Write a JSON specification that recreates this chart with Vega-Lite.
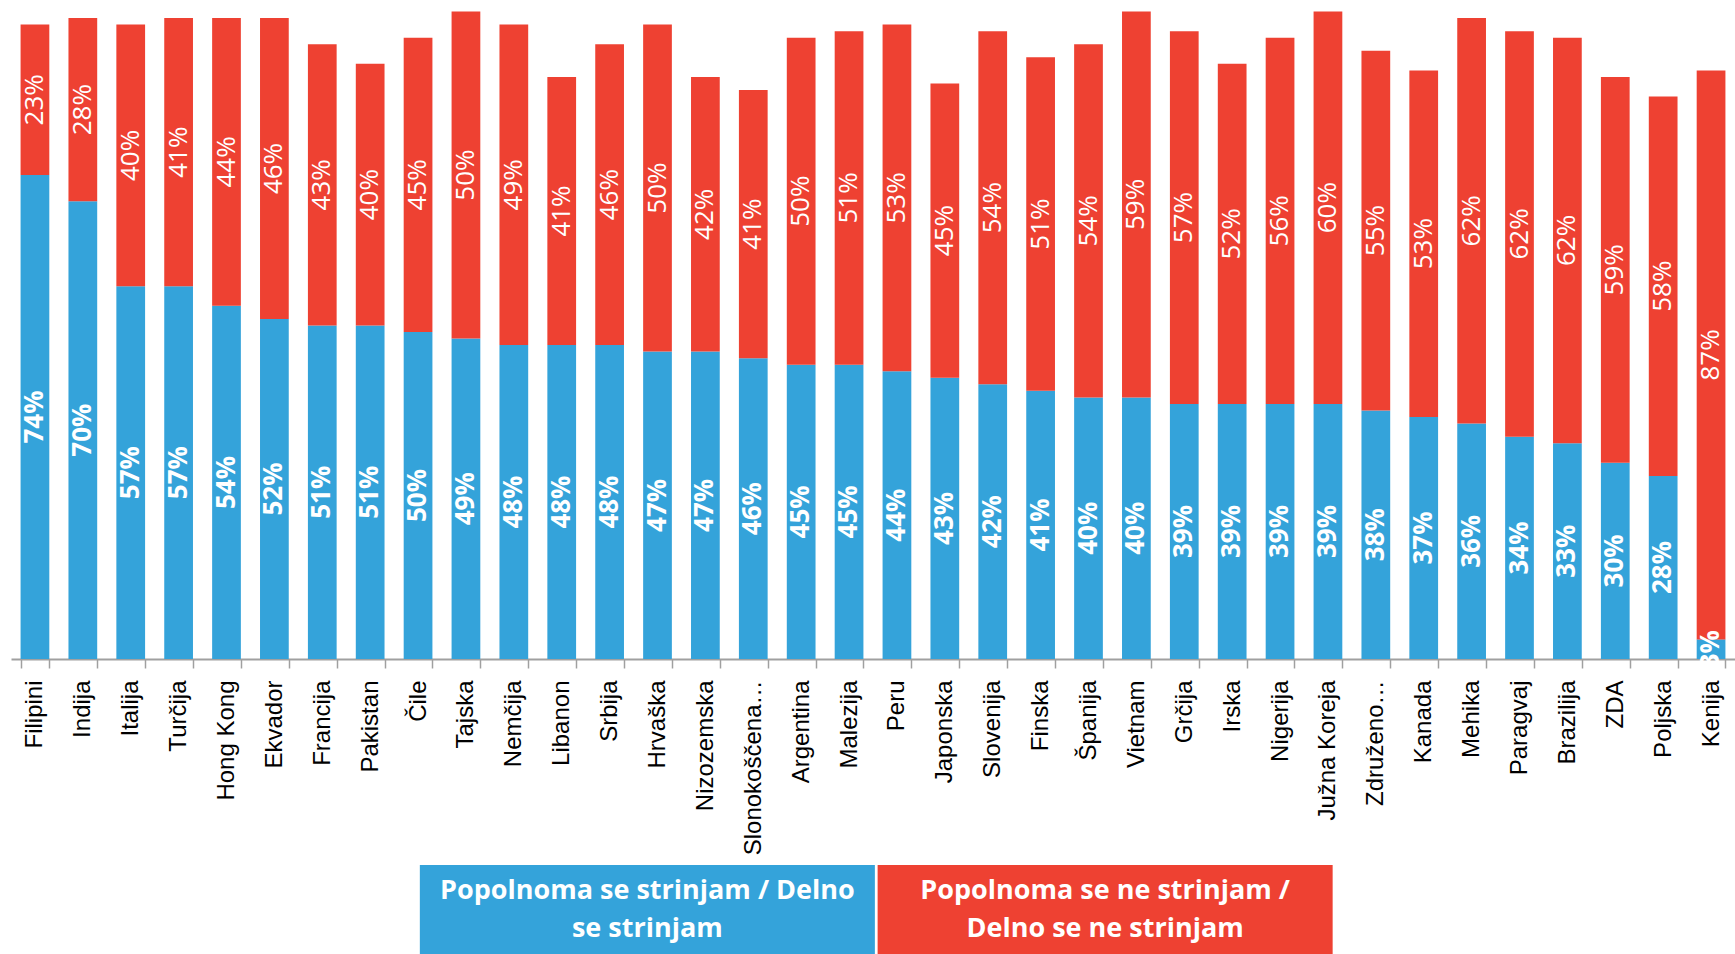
{
  "$schema": "https://vega.github.io/schema/vega-lite/v6.json",
  "background": "white",
  "padding": {"left": -1, "top": 5, "right": 0, "bottom": 0},
  "config": {"view": {"stroke": null}},
  "datasets": {
    "main": [
      {"country": "Filipini", "agree": 0.74, "disagree": 0.23},
      {"country": "Indija", "agree": 0.70, "disagree": 0.28},
      {"country": "Italija", "agree": 0.57, "disagree": 0.40},
      {"country": "Turčija", "agree": 0.57, "disagree": 0.41},
      {"country": "Hong Kong", "agree": 0.54, "disagree": 0.44},
      {"country": "Ekvador", "agree": 0.52, "disagree": 0.46},
      {"country": "Francija", "agree": 0.51, "disagree": 0.43},
      {"country": "Pakistan", "agree": 0.51, "disagree": 0.40},
      {"country": "Čile", "agree": 0.50, "disagree": 0.45},
      {"country": "Tajska", "agree": 0.49, "disagree": 0.50},
      {"country": "Nemčija", "agree": 0.48, "disagree": 0.49},
      {"country": "Libanon", "agree": 0.48, "disagree": 0.41},
      {"country": "Srbija", "agree": 0.48, "disagree": 0.46},
      {"country": "Hrvaška", "agree": 0.47, "disagree": 0.50},
      {"country": "Nizozemska", "agree": 0.47, "disagree": 0.42},
      {"country": "Slonokoščena obala", "agree": 0.46, "disagree": 0.41},
      {"country": "Argentina", "agree": 0.45, "disagree": 0.50},
      {"country": "Malezija", "agree": 0.45, "disagree": 0.51},
      {"country": "Peru", "agree": 0.44, "disagree": 0.53},
      {"country": "Japonska", "agree": 0.43, "disagree": 0.45},
      {"country": "Slovenija", "agree": 0.42, "disagree": 0.54},
      {"country": "Finska", "agree": 0.41, "disagree": 0.51},
      {"country": "Španija", "agree": 0.40, "disagree": 0.54},
      {"country": "Vietnam", "agree": 0.40, "disagree": 0.59},
      {"country": "Grčija", "agree": 0.39, "disagree": 0.57},
      {"country": "Irska", "agree": 0.39, "disagree": 0.52},
      {"country": "Nigerija", "agree": 0.39, "disagree": 0.56},
      {"country": "Južna Koreja", "agree": 0.39, "disagree": 0.60},
      {"country": "Združeno kraljestvo", "agree": 0.38, "disagree": 0.55},
      {"country": "Kanada", "agree": 0.37, "disagree": 0.53},
      {"country": "Mehika", "agree": 0.36, "disagree": 0.62},
      {"country": "Paragvaj", "agree": 0.34, "disagree": 0.62},
      {"country": "Brazilija", "agree": 0.33, "disagree": 0.62},
      {"country": "ZDA", "agree": 0.30, "disagree": 0.59},
      {"country": "Poljska", "agree": 0.28, "disagree": 0.58},
      {"country": "Kenija", "agree": 0.03, "disagree": 0.87}
    ],
    "legend": [
      {"series": "agree", "text": "Popolnoma se strinjam / Delno\nse strinjam"},
      {"series": "disagree", "text": "Popolnoma se ne strinjam /\nDelno se ne strinjam"}
    ]
  },
  "resolve": {"scale": {"x": "independent", "y": "independent"}},
  "spacing": 10,
  "vconcat": [
    {
      "width": 1724,
      "height": 654,
      "data": {"name": "main"},
      "transform": [{"fold": ["agree", "disagree"], "as": ["series", "v"]}],
      "encoding": {
        "x": {
          "field": "country", "type": "nominal", "sort": null,
          "scale": {"paddingInner": 0.4, "paddingOuter": 0.2},
          "axis": {
            "title": null,
            "labelAngle": -90,
            "labelFont": "Liberation Sans",
            "labelFontSize": 24,
            "labelColor": "#000000",
            "labelPadding": 12,
            "labelLimit": 300,
            "labelExpr": "datum.label == 'Slonokoščena obala' ? 'Slonokoščena…' : datum.label == 'Združeno kraljestvo' ? 'Združeno…' : datum.label",
            "tickBand": "extent",
            "tickSize": 9,
            "tickColor": "#A0A0A0",
            "tickWidth": 1.5,
            "domainColor": "#A0A0A0",
            "domainWidth": 2,
            "grid": false
          }
        },
        "y": {"field": "v", "type": "quantitative", "stack": "zero", "scale": {"domain": [0, 1], "nice": false}, "axis": null},
        "order": {"field": "series", "sort": "ascending"}
      },
      "layer": [
        {
          "mark": {"type": "bar"},
          "encoding": {
            "color": {"field": "series", "type": "nominal", "scale": {"domain": ["agree", "disagree"], "range": ["#34A3DA", "#EE4132"]}, "legend": null}
          }
        },
        {
          "mark": {"type": "text", "angle": 270, "align": "center", "baseline": "middle", "font": "Open Sans", "fontWeight": "bold", "fontSize": 26, "color": "white"},
          "encoding": {
            "y": {"field": "v", "type": "quantitative", "stack": "zero", "bandPosition": 0.5, "axis": null},
            "detail": {"field": "series", "type": "nominal"},
            "text": {"condition": {"test": "datum.series === 'agree'", "field": "v", "type": "quantitative", "format": ".0%"}, "value": ""}
          }
        },
        {
          "mark": {"type": "text", "angle": 270, "align": "center", "baseline": "middle", "font": "Open Sans", "fontWeight": "normal", "fontSize": 26, "color": "white"},
          "encoding": {
            "y": {"field": "v", "type": "quantitative", "stack": "zero", "bandPosition": 0.5, "axis": null},
            "detail": {"field": "series", "type": "nominal"},
            "text": {"condition": {"test": "datum.series === 'disagree'", "field": "v", "type": "quantitative", "format": ".0%"}, "value": ""}
          }
        }
      ]
    },
    {
      "width": 1724,
      "height": 89,
      "data": {"name": "legend"},
      "encoding": {
        "x": {"field": "series", "type": "nominal", "scale": {"paddingInner": 0.006, "paddingOuter": 0.886, "align": 0.504}, "axis": null}
      },
      "layer": [
        {
          "mark": {"type": "rect"},
          "encoding": {
            "color": {"field": "series", "type": "nominal", "legend": null}
          }
        },
        {
          "mark": {"type": "text", "align": "center", "baseline": "middle", "dy": -19, "font": "Open Sans", "fontWeight": "bold", "fontSize": 27, "lineHeight": 38, "lineBreak": "\n", "color": "white"},
          "encoding": {
            "text": {"field": "text", "type": "nominal"}
          }
        }
      ]
    }
  ]
}
